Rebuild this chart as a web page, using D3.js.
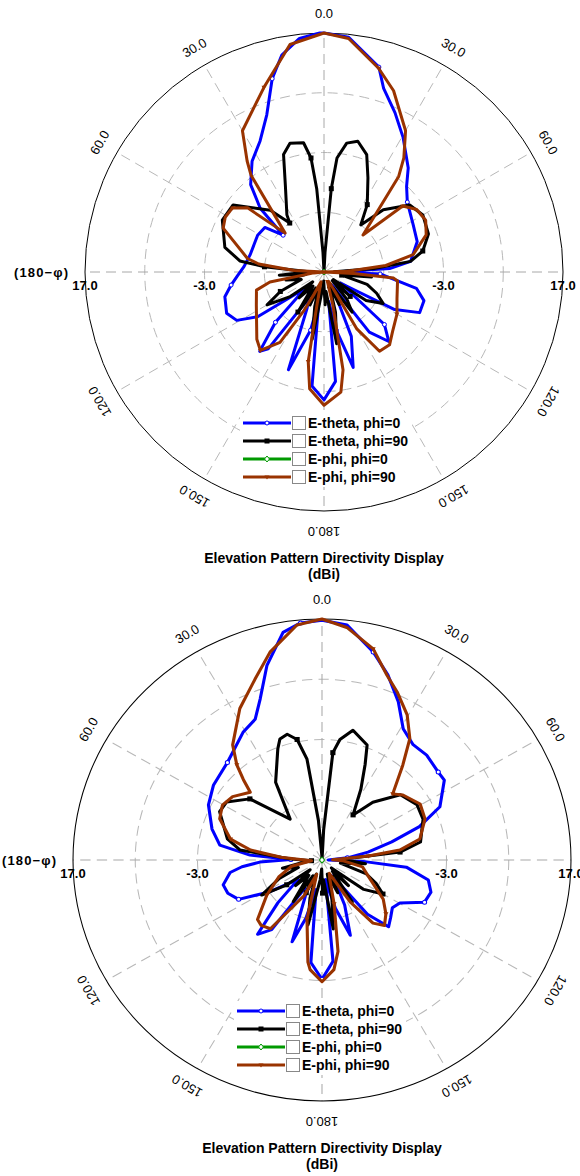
<!DOCTYPE html>
<html>
<head>
<meta charset="utf-8">
<script src="https://cdn.jsdelivr.net/npm/d3@7"></script>
<style>
  html, body { margin: 0; padding: 0; background: #fff; }
  svg { display: block; font-family: "Liberation Sans", Arial, sans-serif; }
</style>
</head>
<body>
<div id="chart"></div>
<script>
// Axis settings
const angleTicks = [0, 30, 60, 120, 150, 180, -30, -60, -120, -150];
const spokeAngles = [0, 30, 60, 90, 120, 150, 180, 210, 240, 270, 300, 330];
const dbMin = -23, dbMax = 17;
const ringValues = [-13, -3, 7];
const radialTickValues = [17, -3];
const radialTickLabels = ["17.0", "-3.0"];
const seriesNames = ["E-theta, phi=0", "E-theta, phi=90", "E-phi, phi=0", "E-phi, phi=90"];
const seriesColors = ["#0000ff", "#000000", "#009900", "#993300"];
const titleLines = ["Elevation Pattern Directivity Display", "(dBi)"];
const sideLabel = "(180\u2212\u03c6)";

// Top chart: [theta in degrees clockwise from top, directivity dBi]
const topEthetaPhi0 = [[0,17.0],[6,16.5],[15,12.5],[18,9.3],[24,6.2],[30.5,3.1],[39,-0.6],[44,-3.1],[50,-4.8],[62,-6.1],[72,-6.6],[83,-8.4],[87,-12],[89.5,-21],[92,-13.6],[100,-7.3],[106,-5.6],[113,-5.6],[118,-9.6],[124,-19.7],[131,-9.6],[137,-7.1],[143,-10.4],[149,-20.5],[157,-11.3],[163,-6.3],[168,-13],[171,-18],[174,-4.6],[180,-1.6],[186,-3.8],[190,-18],[193,-13],[200,-5.6],[205,-16.3],[210,-18],[216,-7.1],[219,-5.9],[224,-11.3],[229,-18.8],[236,-9.6],[241,-6.3],[247,-5.3],[256,-5.9],[262,-7.3],[267,-8.4],[274,-9.6],[283,-10.3],[299,-10.3],[307,-10.6],[312,-13.8],[315,-7.9],[320,-3.9],[327,-0.9],[334,1.4],[340,5.0],[345,10.5],[349,14.0],[354,16.3],[359,17.0]];
const topEthetaPhi90 = [[0,-30],[3,-19.7],[5,-9],[6.5,-3.8],[10,-1.1],[14.5,-0.4],[20,-2.1],[25,-5.6],[32.7,-9.6],[38,-13],[43.6,-8.6],[52,-4.8],[60,-3.9],[70,-4.4],[78,-6.1],[83,-8.4],[86,-14.6],[89,-21.3],[92,-19.7],[96,-15],[100,-20],[106,-15.5],[112,-13.5],[118,-11.8],[124,-14.5],[129,-21],[133,-17],[136,-21],[140,-17],[145,-14.8],[150,-20],[155,-17],[158,-20.5],[164,-16],[170,-10.8],[174,-19.7],[178,-17.5],[182,-21.5],[186,-19.7],[190,-11.6],[195,-17],[199,-20.5],[203,-17],[207,-20],[213,-15],[218,-20],[224,-17],[229,-20.5],[234,-16],[240,-12],[246,-15],[252,-19],[258,-16.5],[263,-20],[266,-15.5],[271,-20.5],[275,-13],[277.5,-8.8],[284,-5.9],[297,-3.9],[306.4,-4.1],[319,-9.3],[325,-13],[327,-11.6],[336,-7.1],[341,-2.2],[345.2,-0.7],[351,-1.1],[353.5,-3.8],[355,-9],[357,-19.7]];
const topEphiPhi0 = [[0,-40],[90,-40],[180,-40],[270,-40]];
const topEphiPhi90 = [[0,17.0],[6,16.3],[15,12.3],[21,9.5],[30,4.3],[35,0.3],[38,-2.7],[46.5,-14.0],[50,-5.8],[56,-4.3],[63,-3.9],[70,-4.8],[79,-7.8],[84,-12.6],[88,-19],[90.5,-24],[93,-18],[95,-11.3],[97,-10.6],[110,-10.0],[120,-8.9],[131,-7.8],[138,-6.6],[145,-6.8],[150,-12.0],[152,-21],[160,-21.3],[165,-17.3],[169,-6.3],[172,-2.7],[180,-0.7],[187,-3.3],[190,-7.8],[192,-17.3],[197,-21.3],[204,-19],[207.7,-15.5],[212,-9.1],[219,-6.1],[225,-7.1],[244,-10.4],[255,-11.3],[259.5,-13.8],[265,-21.3],[269.5,-24],[273,-18],[277,-12],[280,-10],[293.5,-4.6],[299,-4.1],[305,-4.3],[310,-6.3],[315,-13.8],[323,-2.7],[325.3,-0.4],[330,4.3],[342,9.5],[351.5,15.5]];

// Bottom chart
const botEthetaPhi0 = [[0,16.8],[5.9,16.2],[13.4,12.5],[19,9.5],[25,6.0],[30.9,2.4],[37.4,1.1],[44,1.2],[52,0.7],[56,0.7],[65,-2.1],[70.5,-6.4],[75,-11.4],[80,-15.5],[85,-18.9],[89,-22],[92,-16.4],[95,-9.4],[101,-5.6],[107,-4.7],[113,-5.1],[119.7,-8.6],[125,-9.2],[131,-8.4],[136,-7.6],[141,-11.4],[147,-19.7],[154,-14.7],[160,-9.7],[165,-14.7],[170,-19.7],[174,-6.1],[180,-3.2],[186,-5.9],[191,-18],[195,-13],[199.5,-8.6],[204,-16.4],[210,-18],[215,-8.9],[220,-6.9],[225,-13],[230,-18],[238,-13],[244,-8.1],[250,-6.9],[255.4,-6.6],[262,-8.1],[265,-10.1],[268,-13],[271,-18],[274,-11.4],[278.6,-6.4],[286.2,-4.6],[296.6,-2.6],[305.4,-1.6],[316.8,-0.8],[329.1,1.7],[335.3,2.7],[339.6,5.5],[344.7,10.5],[350.6,15.3],[355,16.5]];
const botEthetaPhi90 = [[0,-30],[3,-18],[5.6,-5.1],[8.2,-2.8],[13,-0.9],[20.8,-2.6],[23.6,-5.7],[28,-9.7],[33.7,-14],[40.4,-10.4],[49.3,-6.4],[59,-5.2],[67.3,-5.4],[79.3,-6.9],[84,-10.4],[88,-19.7],[95,-16],[100,-20],[108,-15.5],[114,-13.5],[120,-11.7],[126,-14.7],[131,-21],[135,-17],[138,-20.5],[145,-14.5],[151,-19.7],[155,-17],[160,-20.5],[166,-16.4],[171,-11.4],[176,-19.7],[179,-17.5],[182,-21.5],[185,-19.7],[191.8,-12],[197,-16.4],[201,-20.5],[205,-17],[209,-20],[213.7,-14.7],[220,-19.7],[225,-17],[230,-20.5],[234,-16],[239,-11.7],[246,-15.5],[252,-19],[258,-16.5],[263,-20],[266,-21.3],[272,-18],[277.2,-9.7],[283,-7.4],[296,-4.7],[302.2,-4.9],[311.2,-7.6],[323,-14.5],[330,-8.1],[339,-3.2],[341.4,-1.8],[345,-1.4],[348.7,-2.6],[351.8,-6.1],[355,-16.4],[358,-22.2]];
const botEphiPhi0 = [[0,-40],[90,-40],[180,-40],[270,-40]];
const botEphiPhi90 = [[0,17.0],[5.9,15.8],[13.2,13.0],[18.8,9.4],[23.4,7.4],[29.6,4.7],[35,1.6],[39.5,-2.6],[46,-7.2],[50.3,-6.1],[59.5,-4.7],[67.6,-5.1],[77.5,-6.9],[82.5,-10.4],[85,-15.5],[89,-21.3],[92,-19.7],[100,-16.4],[112,-14.7],[123.5,-11.2],[131,-9.4],[137.3,-8.2],[142,-9.7],[147,-14.7],[152,-20.5],[158,-19.7],[165,-15.5],[170.4,-7.6],[174,-4.7],[180,-2.8],[186,-4.7],[187.6,-5.9],[193.8,-12.9],[200,-20.5],[206,-16.4],[216,-8.9],[222,-8.4],[226.4,-8.7],[236.7,-12.4],[248,-15.5],[258,-18],[266,-21.3],[274,-16.4],[278.2,-11.4],[283.3,-7.9],[292.6,-5.2],[299.6,-4.6],[306.2,-5.2],[314.3,-6.9],[316.6,-4.6],[319.1,-2.1],[323.1,0.9],[332.3,5.4],[340.3,8.9],[346.4,12.5],[354.1,16.2]];

// Panel placement
const panels = [
  { cx: 324, cy: 272, rx: 239, ry: 239, legendX: 243,
    series: [topEthetaPhi0, topEthetaPhi90, topEphiPhi0, topEphiPhi90] },
  { cx: 322, cy: 860, rx: 249, ry: 241, legendX: 237,
    series: [botEthetaPhi0, botEthetaPhi90, botEphiPhi0, botEphiPhi90] }
];

const W = 580, H = 1176;
const svg = d3.select('#chart').append('svg').attr('width', W).attr('height', H);
const rad = d => d * Math.PI / 180;

function drawMarker(sel, k, color) {
  if (k === 0) {
    sel.append('circle').attr('r', 2).attr('fill', '#fff').attr('stroke', color).attr('stroke-width', 1);
  } else if (k === 1) {
    sel.append('rect').attr('x', -2.5).attr('y', -2.5).attr('width', 5).attr('height', 5).attr('fill', color);
  } else if (k === 2) {
    sel.append('path').attr('d', 'M0,-3L2.5,0L0,3L-2.5,0Z').attr('fill', '#fff').attr('stroke', color).attr('stroke-width', 1);
  } else {
    sel.append('path').attr('d', 'M-2.5,-1.5L2.5,-1.5L0,2.5Z').attr('fill', color);
  }
}

function drawPanel(p) {
  const R = p.ry, sx = p.rx / p.ry;
  const r = d3.scaleLinear().domain([dbMin, dbMax]).range([0, R]).clamp(true);
  const g = svg.append('g').attr('transform', `translate(${p.cx},${p.cy})`);
  const plot = g.append('g').attr('transform', `scale(${sx},1)`);

  // dashed rings
  plot.selectAll('circle.ring').data(ringValues).join('circle')
    .attr('class', 'ring')
    .attr('r', d => r(d))
    .attr('fill', 'none')
    .attr('stroke', '#b8b8b8')
    .attr('stroke-width', 1)
    .attr('stroke-dasharray', '10,6');

  // dashed spokes
  plot.selectAll('line.spoke').data(spokeAngles).join('line')
    .attr('class', 'spoke')
    .attr('x1', 0).attr('y1', 0)
    .attr('x2', d => R * Math.sin(rad(d)))
    .attr('y2', d => -R * Math.cos(rad(d)))
    .attr('stroke', d => d % 90 === 0 ? '#a8a8a8' : '#b8b8b8')
    .attr('stroke-width', 1)
    .attr('stroke-dasharray', '10,6');

  // outer circle
  plot.append('circle').attr('r', R).attr('fill', 'none').attr('stroke', '#000').attr('stroke-width', 1);

  // pattern curves
  const line = d3.lineRadial()
    .angle(d => rad(d[0]))
    .radius(d => r(d[1]))
    .curve(d3.curveLinearClosed);

  p.series.forEach((pts, k) => {
    plot.append('path')
      .datum(pts)
      .attr('d', line)
      .attr('fill', 'none')
      .attr('stroke', seriesColors[k])
      .attr('stroke-width', 3)
      .attr('stroke-linejoin', 'round');
    pts.filter((d, i) => i % 6 === 2).forEach(d => {
      const m = plot.append('g')
        .attr('transform', `translate(${r(d[1]) * Math.sin(rad(d[0]))},${-r(d[1]) * Math.cos(rad(d[0]))})`);
      drawMarker(m, k, seriesColors[k]);
    });
  });

  // angle labels
  const LR = R + 20;
  g.selectAll('text.ang').data(angleTicks).join('text')
    .attr('class', 'ang')
    .attr('transform', d => `translate(${LR * sx * Math.sin(rad(d))},${-LR * Math.cos(rad(d))}) rotate(${d})`)
    .attr('text-anchor', 'middle')
    .attr('dominant-baseline', 'central')
    .attr('font-size', 13)
    .attr('fill', '#000')
    .text(d => Math.abs(d).toFixed(1));

  // radial tick labels below the horizontal axis
  radialTickValues.forEach((v, i) => {
    [-1, 1].forEach(s => {
      g.append('text')
        .attr('x', s * r(v) * sx)
        .attr('y', 13)
        .attr('text-anchor', 'middle')
        .attr('dominant-baseline', 'central')
        .attr('font-size', 13)
        .attr('font-weight', 'bold')
        .text(radialTickLabels[i]);
    });
  });

  // side labels
  [-1, 1].forEach(s => {
    g.append('text')
      .attr('x', s * (R * sx + 17))
      .attr('y', 0)
      .attr('text-anchor', s < 0 ? 'end' : 'start')
      .attr('dominant-baseline', 'central')
      .attr('font-size', 13)
      .attr('font-weight', 'bold')
      .attr('textLength', 54)
      .attr('lengthAdjust', 'spacing')
      .text(sideLabel);
  });

  // legend
  const lx = p.legendX - p.cx, ly = 151;
  g.append('rect')
    .attr('x', lx - 3).attr('y', ly - 10)
    .attr('width', 172).attr('height', 74)
    .attr('fill', '#fff');
  seriesNames.forEach((name, k) => {
    const y = ly + k * 18;
    g.append('line')
      .attr('x1', lx).attr('x2', lx + 48)
      .attr('y1', y).attr('y2', y)
      .attr('stroke', seriesColors[k]).attr('stroke-width', 3);
    drawMarker(g.append('g').attr('transform', `translate(${lx + 24},${y})`), k, seriesColors[k]);
    g.append('rect')
      .attr('x', lx + 49.5).attr('y', y - 6.5)
      .attr('width', 13).attr('height', 13)
      .attr('fill', '#fff').attr('stroke', '#888').attr('stroke-width', 1);
    g.append('text')
      .attr('x', lx + 65).attr('y', y)
      .attr('dominant-baseline', 'central')
      .attr('font-size', 14)
      .attr('font-weight', 'bold')
      .text(name);
  });

  // title
  titleLines.forEach((t, i) => {
    g.append('text')
      .attr('x', 0)
      .attr('y', R + 47 + i * 16)
      .attr('text-anchor', 'middle')
      .attr('dominant-baseline', 'central')
      .attr('font-size', 14)
      .attr('font-weight', 'bold')
      .text(t);
  });
}

panels.forEach(drawPanel);
</script>
</body>
</html>
